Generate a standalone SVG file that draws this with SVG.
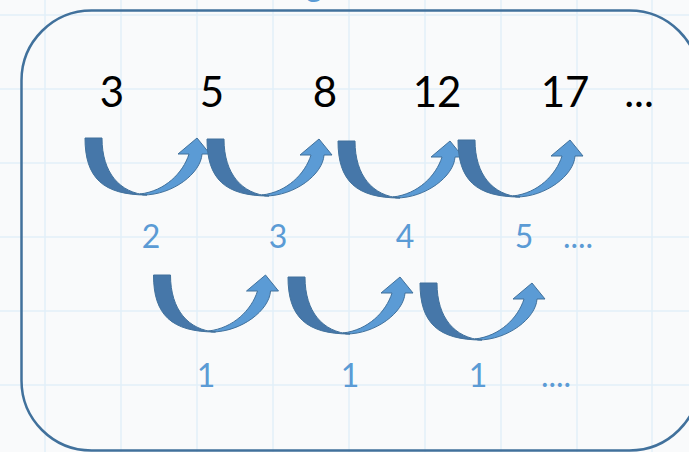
<svg xmlns="http://www.w3.org/2000/svg" width="689" height="452" viewBox="0 0 689 452">
<style>
.grid line{stroke:#e2eff9;stroke-width:1.5}
.num{font-family:Lato,"Liberation Sans",sans-serif;font-size:42px;fill:#000;text-anchor:middle}
.lbl{font-family:Lato,"Liberation Sans",sans-serif;font-size:32px;fill:#5b9bd5;text-anchor:middle}
.back{fill:#4677a9;stroke:#41719c;stroke-width:1}
.front{fill:#5b9bd5;stroke:#41719c;stroke-width:1}
</style>
<defs>
<g id="curvedArrow">
<path class="front" d="M58,57 C88,57 116,35 117,16 L125,16 L112,0 L93,16 L104,16 C98,35 80,53 55,56 Z"/>
<path class="back" d="M0,0 L17,0 C17,35 35,55 62,57 C18,57 0,40 0,0 Z"/>
</g>
</defs>
<rect width="689" height="452" fill="#f9fafb"/>
<g class="grid">
<line x1="45" y1="0" x2="45" y2="452"/>
<line x1="121" y1="0" x2="121" y2="452"/>
<line x1="197" y1="0" x2="197" y2="452"/>
<line x1="273" y1="0" x2="273" y2="452"/>
<line x1="349" y1="0" x2="349" y2="452"/>
<line x1="425" y1="0" x2="425" y2="452"/>
<line x1="501" y1="0" x2="501" y2="452"/>
<line x1="577" y1="0" x2="577" y2="452"/>
<line x1="652" y1="0" x2="652" y2="452"/>
<line x1="0" y1="15" x2="689" y2="15"/>
<line x1="0" y1="89" x2="689" y2="89"/>
<line x1="0" y1="163" x2="689" y2="163"/>
<line x1="0" y1="237" x2="689" y2="237"/>
<line x1="0" y1="311" x2="689" y2="311"/>
<line x1="0" y1="385" x2="689" y2="385"/>
</g>
<text x="314" y="-4" class="lbl" font-size="40">g</text>
<g id="frame">
<rect x="21.5" y="10.5" width="678" height="440" rx="70" ry="70" fill="none" stroke="#41719c" stroke-width="2.5"/>
</g>
<g id="sequence">
<text x="112" y="107" class="num">3</text>
<text x="212" y="107" class="num">5</text>
<text x="325" y="107" class="num">8</text>
<text x="437" y="107" class="num">12</text>
<text x="565" y="107" class="num">17</text>
<text x="639" y="107" class="num">...</text>
</g>
<g id="connectors">
<use href="#curvedArrow" transform="translate(85,138)"/>
<use href="#curvedArrow" transform="translate(207,139)"/>
<use href="#curvedArrow" transform="translate(338,141)"/>
<use href="#curvedArrow" transform="translate(458,140)"/>
<use href="#curvedArrow" transform="translate(153.5,275)"/>
<use href="#curvedArrow" transform="translate(288,277)"/>
<use href="#curvedArrow" transform="translate(420,283)"/>
</g>
<g id="differences1">
<text x="151" y="248" class="lbl">2</text>
<text x="278" y="248" class="lbl">3</text>
<text x="405" y="248" class="lbl">4</text>
<text x="524" y="248" class="lbl">5</text>
<text x="578" y="248" class="lbl">....</text>
</g>
<g id="differences2">
<text x="206" y="387" class="lbl">1</text>
<text x="350" y="387" class="lbl">1</text>
<text x="478" y="387" class="lbl">1</text>
<text x="556" y="387" class="lbl">....</text>
</g>
</svg>
